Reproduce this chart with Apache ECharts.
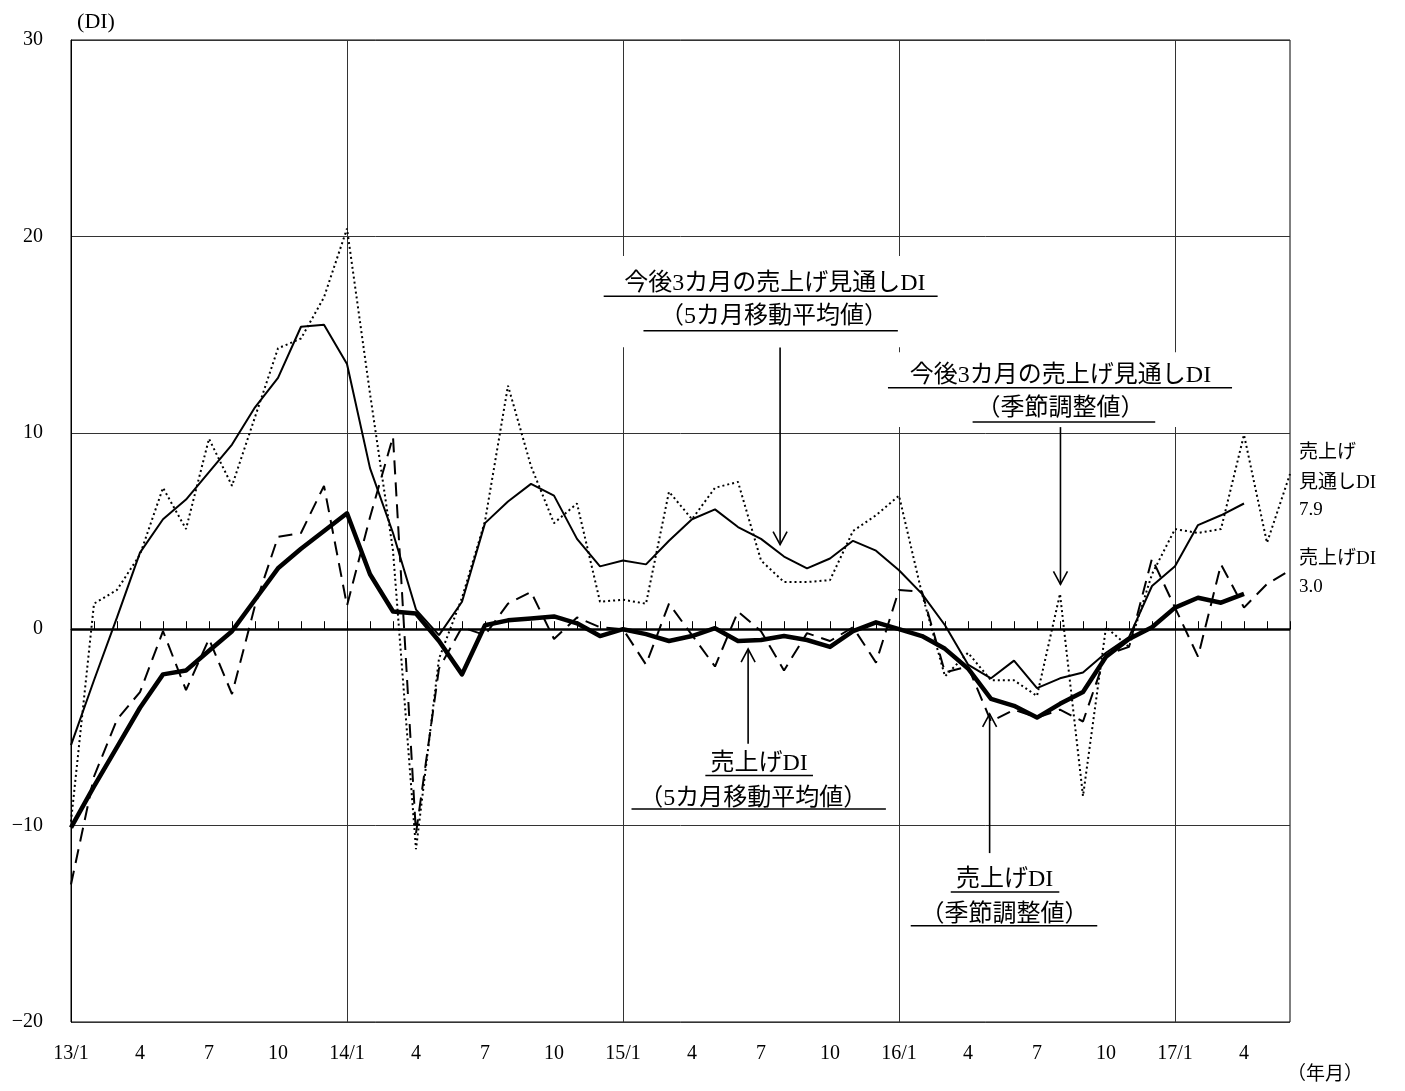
<!DOCTYPE html>
<html><head><meta charset="utf-8">
<script src="https://cdn.jsdelivr.net/npm/echarts@6/dist/echarts.min.js"></script>
<style>html,body{margin:0;padding:0;background:#fff}#c{width:1405px;height:1091px}</style>
</head><body><div id="c"></div>
<script>
// ---- data ----
const months = ["13/1","2","3","4","5","6","7","8","9","10","11","12",
  "14/1","2","3","4","5","6","7","8","9","10","11","12",
  "15/1","2","3","4","5","6","7","8","9","10","11","12",
  "16/1","2","3","4","5","6","7","8","9","10","11","12",
  "17/1","2","3","4","5","6"];
// 今後3カ月の売上げ見通しDI（季節調整値）
const outlookSA = [-9.8,1.3,2.0,3.8,7.2,5.1,9.7,7.3,10.8,14.3,14.8,16.9,
  20.4,12.0,4.0,-11.2,-1.5,1.6,5.5,12.4,8.3,5.4,6.4,1.4,
  1.5,1.3,7.0,5.6,7.2,7.5,3.5,2.4,2.4,2.5,5.0,5.8,
  6.8,1.8,-2.4,-1.2,-2.6,-2.6,-3.4,1.8,-8.5,0.1,-0.9,2.8,
  5.1,4.9,5.1,9.9,4.4,7.9];
// 今後3カ月の売上げ見通しDI（5カ月移動平均値）
const outlookMA = [-5.9,-2.6,0.6,3.9,5.6,6.6,8.0,9.4,11.3,12.8,15.4,15.5,
  13.5,8.2,4.9,1.0,-0.3,1.4,5.4,6.5,7.4,6.8,4.6,3.2,
  3.5,3.3,4.5,5.6,6.1,5.2,4.6,3.7,3.1,3.6,4.5,4.0,
  3.0,1.8,0.2,-1.8,-2.5,-1.6,-3.0,-2.5,-2.2,-1.2,-0.4,2.2,
  3.2,5.3,5.8,6.4,null,null];
// 売上げDI（季節調整値）
const salesSA = [-13.0,-7.5,-4.6,-3.2,-0.1,-3.1,-0.5,-3.3,1.2,4.7,4.9,7.3,
  1.2,5.7,9.8,-10.4,-2.0,0.1,-0.3,1.3,1.9,-0.5,0.6,0.1,
  0.0,-1.8,1.3,-0.3,-1.9,0.9,-0.1,-2.1,-0.2,-0.6,0.1,-1.7,
  2.0,1.9,-2.2,-1.9,-4.7,-4.1,-4.5,-4.1,-4.7,-1.3,-0.9,3.6,
  1.1,-1.4,3.3,1.1,2.3,3.0];
// 売上げDI（5カ月移動平均値）
const salesMA = [-10.1,-8.0,-6.0,-4.0,-2.3,-2.1,-1.1,-0.1,1.5,3.1,4.1,5.0,
  5.9,2.8,0.9,0.8,-0.6,-2.3,0.2,0.45,0.55,0.65,0.3,-0.35,
  0.0,-0.25,-0.6,-0.35,0.05,-0.6,-0.55,-0.35,-0.55,-0.9,-0.1,0.35,
  0.0,-0.35,-1.0,-2.0,-3.55,-3.9,-4.5,-3.8,-3.2,-1.4,-0.5,0.1,
  1.1,1.6,1.35,1.8,null,null];
const yMin = -20, yMax = 30, yStep = 10;

// ---- chart ----
const FONT = "'Liberation Serif','Noto Sans CJK JP',serif";
const chart = echarts.init(document.getElementById('c'), null, {renderer:'canvas'});
const lineBase = {type:'line', showSymbol:false, symbol:'none', smooth:false, animation:false, connectNulls:false};
chart.setOption({
  backgroundColor:'#fff',
  animation:false,
  grid:{left:71, right:115, top:40, bottom:69, show:true, borderColor:'#000', borderWidth:1, backgroundColor:'transparent'},
  xAxis:{type:'category', data:months, boundaryGap:false,
    axisLine:{lineStyle:{color:'#000', width:1}},
    axisTick:{show:true, inside:true, length:8, interval:0, lineStyle:{color:'#000'}},
    axisLabel:{interval:(i)=>i%3===0, color:'#000', fontFamily:FONT, fontSize:20, margin:22},
    splitLine:{show:true, interval:(i)=>i>0 && i%12===0, lineStyle:{color:'#333', width:1}}},
  yAxis:{type:'value', min:yMin, max:yMax, interval:yStep,
    axisLine:{show:true, lineStyle:{color:'#000', width:1}},
    axisTick:{show:false},
    axisLabel:{color:'#000', fontFamily:FONT, fontSize:20, margin:28, formatter:(v)=>String(v).replace('-', '\u2212')},
    splitLine:{show:true, lineStyle:{color:'#333', width:1}}},
  series:[
    Object.assign({}, lineBase, {name:'outlookSA', data:outlookSA, z:3,
      lineStyle:{color:'#000', width:2, type:[2,3]},
      markLine:{silent:true, symbol:'none', label:{show:false}, animation:false,
        data:[{yAxis:0}], lineStyle:{color:'#000', width:2.5, type:'solid'}}}),
    Object.assign({}, lineBase, {name:'salesSA', data:salesSA, z:4,
      lineStyle:{color:'#000', width:2, type:[14,8]}}),
    Object.assign({}, lineBase, {name:'outlookMA', data:outlookMA, z:5,
      lineStyle:{color:'#000', width:2, type:'solid'}}),
    Object.assign({}, lineBase, {name:'salesMA', data:salesMA, z:6,
      lineStyle:{color:'#000', width:4.5, type:'solid', join:'round'}})
  ]
});

// ---- annotations (positions in data units, converted by the axes) ----
// category axes snap to whole indexes, so fractional positions are interpolated
function P(i, v){
  const i0 = Math.max(0, Math.min(months.length - 2, Math.floor(i)));
  const a = chart.convertToPixel({xAxisIndex:0, yAxisIndex:0}, [i0, v]);
  const b = chart.convertToPixel({xAxisIndex:0, yAxisIndex:0}, [i0 + 1, v]);
  return [a[0] + (i - i0) * (b[0] - a[0]), a[1]];
}
const g = [];
function txt(x, y, s, size, align){
  g.push({type:'text', z:102, x:x, y:y, style:{text:s, font:size+'px '+FONT, fill:'#000', align:align||'center', verticalAlign:'middle'}});
}
function hline(i1, i2, v){
  const a = P(i1, v), b = P(i2, v);
  g.push({type:'line', z:102, shape:{x1:a[0], y1:a[1], x2:b[0], y2:b[1]}, style:{stroke:'#000', lineWidth:1.5}});
}
function box(i1, i2, v1, v2){
  const a = P(i1, v1), b = P(i2, v2);
  g.push({type:'rect', z:100, shape:{x:a[0], y:a[1], width:b[0]-a[0], height:b[1]-a[1]}, style:{fill:'#fff'}});
}
function arrow(i, vFrom, vTo){
  const a = P(i, vFrom), b = P(i, vTo);
  g.push({type:'line', z:102, shape:{x1:a[0], y1:a[1], x2:b[0], y2:b[1]}, style:{stroke:'#000', lineWidth:1.6}});
  const d = b[1] > a[1] ? -1 : 1;
  g.push({type:'polyline', z:102, shape:{points:[[b[0]-7, b[1]+d*13],[b[0], b[1]],[b[0]+7, b[1]+d*13]]}, style:{stroke:'#000', lineWidth:1.6, fill:null}});
}

const AF = 24;
// A1
box(22.9, 36.2, 19.0, 14.35);
let p = P(30.6, 17.6); txt(p[0], p[1], '今後3カ月の売上げ見通しDI', AF);
p = P(30.57, 15.9); txt(p[0], p[1], '（5カ月移動平均値）', AF);
hline(23.16, 37.68, 16.95);
hline(24.89, 35.95, 15.2);
arrow(30.83, 14.34, 4.31);
// A2
box(35.3, 50.7, 14.1, 10.3);
p = P(43.02, 12.92); txt(p[0], p[1], '今後3カ月の売上げ見通しDI', AF);
p = P(43.02, 11.25); txt(p[0], p[1], '（季節調整値）', AF);
hline(35.52, 50.48, 12.3);
hline(39.2, 47.14, 10.55);
arrow(43.02, 10.29, 2.28);
// A3
p = P(29.92, -6.84); txt(p[0], p[1], '売上げDI', AF);
p = P(29.66, -8.62); txt(p[0], p[1], '（5カ月移動平均値）', AF);
hline(27.58, 32.26, -7.45);
hline(24.37, 35.43, -9.15);
arrow(29.44, -5.83, -1.01);
// A4
p = P(40.59, -12.77); txt(p[0], p[1], '売上げDI', AF);
p = P(40.59, -14.55); txt(p[0], p[1], '（季節調整値）', AF);
hline(38.25, 42.97, -13.38);
hline(36.51, 44.62, -15.1);
arrow(39.94, -11.40, -4.31);
// right-side labels
const last = months.length - 1;
[['売上げ', 8.97], ['見通しDI', 7.45], ['7.9', 6.08], ['売上げDI', 3.55], ['3.0', 2.13]].forEach(function(r){
  const q = P(last, r[1]); txt(q[0] + 9, q[1], r[0], 19, 'left');
});
// axis captions
p = P(0, yMax); txt(p[0] + 25, p[1] - 18, '(DI)', 22);
p = P(last, yMin); txt(p[0] + 35, p[1] + 53, '（年月）', 19);

chart.setOption({graphic:{elements:g}});
</script>
</body></html>
